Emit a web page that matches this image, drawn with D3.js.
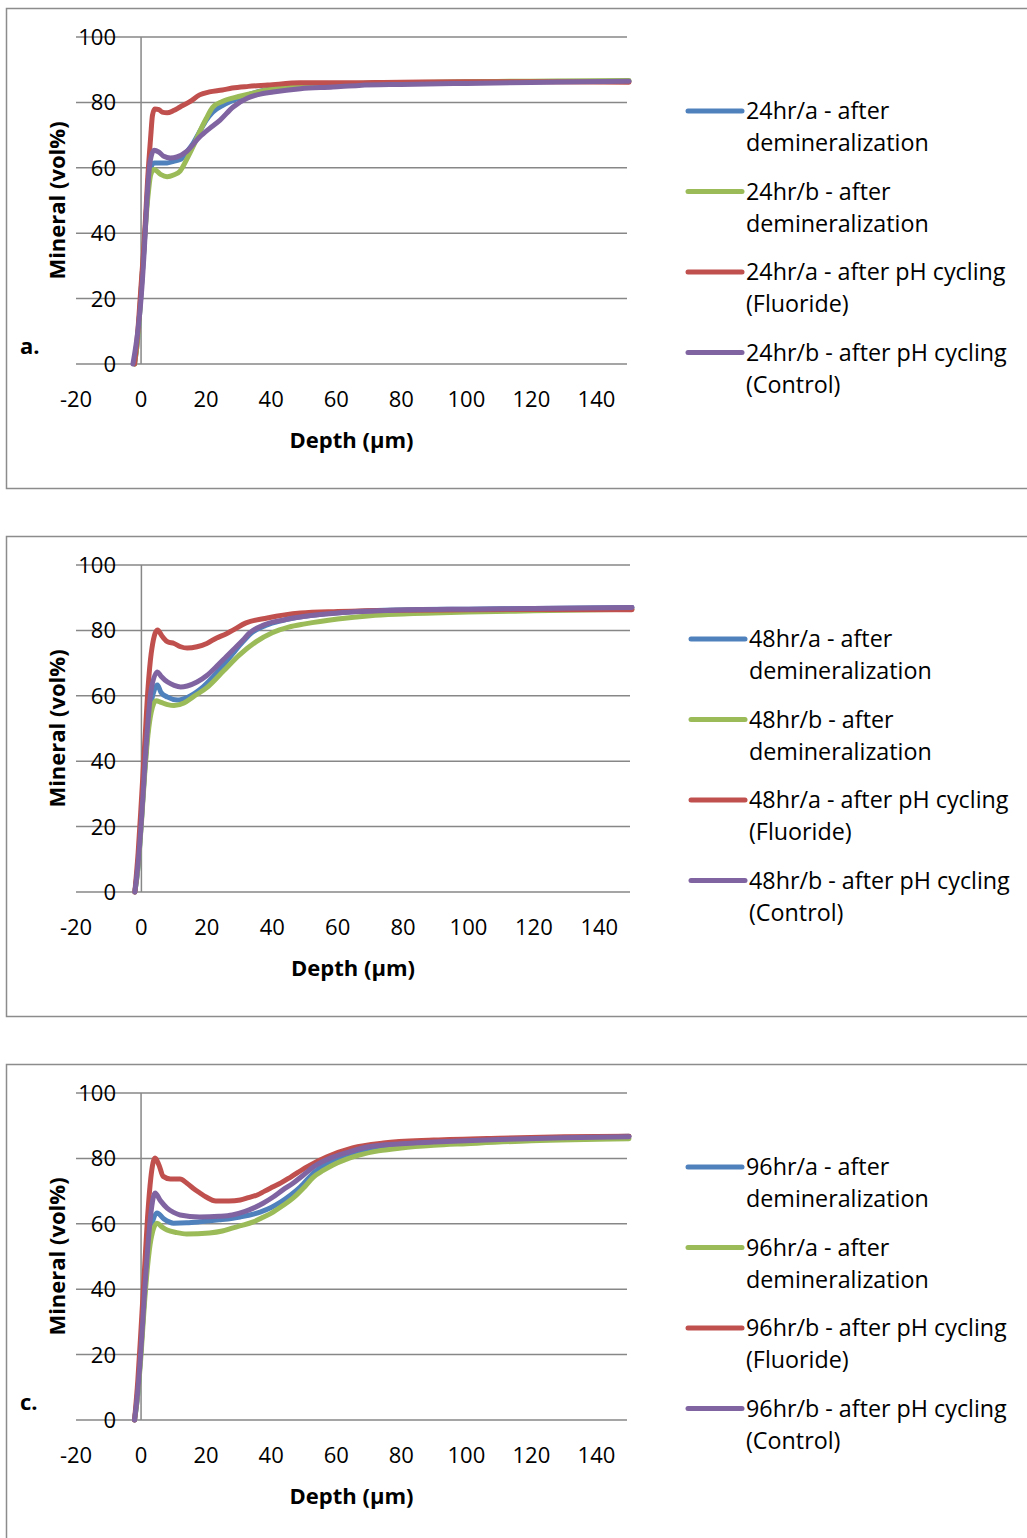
<!DOCTYPE html>
<html>
<head>
<meta charset="utf-8">
<script src="https://cdn.jsdelivr.net/npm/d3@7"></script>
<style>
  html, body { margin: 0; padding: 0; background: #fff; }
  svg { display: block; }
  text { font-family: "Open Sans", Lato, sans-serif; fill: #000; }
</style>
</head>
<body>
<div id="chart"></div>
<script>
"use strict";

// ─── Data: [depth µm, mineral vol%] ─────────────────────────────────────────
// 24 hr
const blue24 = [[-2,0],[-1,8],[0,22],[1,37],[2,52],[3,60],[4,61.5],[6,61.5],[8,61.5],[10,62],[12,62.5],[14,64.8],[16,67.5],[18,71],[20,74.5],[22,77],[25,79],[28,80.5],[32,82],[36,83.3],[40,84.2],[50,85],[60,85.5],[80,86],[100,86.2],[120,86.3],[150,86.5]];
const green24 = [[-2,0],[-1,8],[0,22],[1,37],[2,50],[3,58],[4,59.5],[6,58],[8,57.3],[10,57.8],[12,59],[14,62.5],[16,66.5],[18,71],[20,75],[22,78.5],[25,80.3],[30,81.8],[35,83],[40,84],[50,85],[60,85.6],[80,86],[100,86.3],[120,86.5],[150,86.7]];
const red24 = [[-2,0],[-1,10],[0,24],[1,38],[2,56],[3,70],[3.5,76],[4.2,78],[5.5,77.8],[6.5,77],[8,76.8],[10,77.5],[12,78.6],[15,80.2],[18,82.3],[21,83.2],[25,83.8],[28,84.4],[33,84.9],[39,85.3],[49,86],[60,86],[80,86.2],[100,86.3],[120,86.3],[150,86.2]];
const purple24 = [[-2.5,0],[-1,10],[0,20],[1,35],[1.8,50],[2.8,62],[4,65.4],[5.5,64.8],[7,63.5],[9,63],[11,63.3],[14,65],[18,69.4],[21,72],[24.3,74.6],[28.3,78.6],[32.6,81.3],[36,82.4],[40.6,83.2],[49,84.2],[59,84.7],[67,85.2],[80,85.5],[100,85.8],[120,86.1],[150,86.5]];

// 48 hr
const blue48 = [[-2,0],[-1,8],[0,22],[1,37],[2,50],[3,58],[4,62],[4.9,63.3],[6,61],[8,59.6],[11,58.7],[14,59.5],[18,62],[23,67],[28,73],[31,76.5],[34,79.5],[38,81.5],[43,83],[50,84.3],[59,85.3],[70,86],[80,86.3],[100,86.5],[120,86.7],[150,87]];
const green48 = [[-2,0],[-1,8],[0,21],[1,36],[2,48],[3,55],[4.5,58.5],[6,58],[8,57.3],[10,57],[13,57.8],[16,59.8],[20,62.5],[25,67.5],[30,72.5],[35,76.5],[40,79.3],[45,81],[50,82],[60,83.5],[70,84.5],[80,85],[100,85.6],[120,86],[150,86.5]];
const red48 = [[-2,0],[-1,12],[0,28],[1,45],[2,62],[3,73],[4.9,80.1],[6.5,78],[8,76.5],[10,76],[12,75],[14,74.6],[17,75],[20,76],[23,77.7],[26,79],[28,80.1],[32,82.3],[38.5,83.8],[48.6,85.3],[60,85.8],[80,86.2],[100,86.3],[120,86.4],[150,86.3]];
const purple48 = [[-2,0],[-1,9],[0,22],[1,38],[2,52],[3,62],[4.9,67.3],[6,66],[8,64.2],[10,63.2],[12,62.7],[14,63],[17,64.2],[20,66.2],[23,69],[26,72],[28,74],[31,77],[33,79.2],[37,81.5],[43.5,83.2],[50,84.3],[60,85.3],[80,86.2],[100,86.5],[120,86.7],[150,87]];

// 96 hr
const blue96 = [[-2,0],[-1,8],[0,22],[1,37],[2,50],[3,58],[4.9,63.3],[7,61.5],[10,60.2],[14,60.3],[18,60.6],[24,61.2],[30.5,62.1],[36.6,63.6],[40,65],[43,66.7],[46,68.8],[49,71.3],[53,75.5],[56,77.8],[59,79.5],[64,81.3],[69.5,82.6],[80,84],[90,84.8],[110,85.6],[130,86.3],[150,86.8]];
const green96 = [[-2,0],[-1,8],[0,20],[1,35],[2,47],[3,55],[4.9,60.2],[6.5,59],[8,58.1],[11,57.3],[14,56.9],[21,57.2],[25,57.8],[28,58.7],[31,59.5],[34.5,60.6],[37.5,62],[40.6,63.6],[43.5,65.5],[46.8,67.9],[50,71],[53,74.3],[56,76.3],[59,78],[63,79.7],[67,81],[73,82.3],[80,83.2],[90,84],[100,84.5],[120,85.4],[150,86]];
const red96 = [[-2,0],[-1,12],[0,28],[1,45],[2,62],[3,74],[4.3,80.1],[5.5,78],[6.8,74.5],[9,73.7],[12,73.7],[14,72.5],[16,70.9],[18,69.5],[20,68.2],[23,67],[27,67],[30.5,67.3],[33,68],[35.7,68.8],[38,70],[40.6,71.3],[43,72.5],[46,74.3],[51,77.4],[57,80.4],[65,83.2],[74.5,84.7],[90,85.6],[110,86.2],[130,86.6],[150,86.8]];
const purple96 = [[-2,0],[-1,9],[0,22],[1,38],[2,52],[3,63],[4.3,69.4],[6,67],[8,64.8],[10,63.5],[12,62.7],[18,62.1],[24,62.3],[28,62.7],[32,63.8],[34.5,64.8],[37.5,66.3],[40.6,68.2],[43.5,70.3],[46.8,72.5],[50,75],[53,77.4],[59,80.4],[64,82],[69.5,83.5],[80,84.5],[90,85],[110,85.8],[130,86.3],[150,86.6]];

const legend24 = [["24hr/a - after", "demineralization"], ["24hr/b - after", "demineralization"], ["24hr/a - after pH cycling", "(Fluoride)"], ["24hr/b - after pH cycling", "(Control)"]];
const legend48 = [["48hr/a - after", "demineralization"], ["48hr/b - after", "demineralization"], ["48hr/a - after pH cycling", "(Fluoride)"], ["48hr/b - after pH cycling", "(Control)"]];
const legend96 = [["96hr/a - after", "demineralization"], ["96hr/a - after", "demineralization"], ["96hr/b - after pH cycling", "(Fluoride)"], ["96hr/b - after pH cycling", "(Control)"]];

const xTicks = [-20, 0, 20, 40, 60, 80, 100, 120, 140];
const yTicks = [0, 20, 40, 60, 80, 100];
const COLORS = ["#4f81bd", "#9bbb59", "#c0504d", "#8064a2"];

// ─── Layout ─────────────────────────────────────────────────────────────────
const W = 1027, H = 1538;
const panels = [
  { top: 8,    y0: 364,  y100: 37,   right: 627, series: [blue24, green24, red24, purple24], legend: legend24, legendX: 688, legendY: 111, tag: "a." },
  { top: 536,  y0: 892,  y100: 565,  right: 630, series: [blue48, green48, red48, purple48], legend: legend48, legendX: 691, legendY: 639, tag: "" },
  { top: 1064, y0: 1420, y100: 1093, right: 627, series: [blue96, green96, red96, purple96], legend: legend96, legendX: 688, legendY: 1167, tag: "c." },
];

const svg = d3.select("#chart").append("svg")
  .attr("width", W).attr("height", H)
  .attr("viewBox", `0 0 ${W} ${H}`);

const GRID = "#878787";
const FS = 22;
const LEGEND_FS = 23.3;

panels.forEach((p) => {
  const g = svg.append("g");

  // frame (right side runs off the page)
  g.append("rect")
    .attr("x", 6.5).attr("y", p.top + 0.5)
    .attr("width", W + 20).attr("height", 480)
    .attr("fill", "#fff")
    .attr("stroke", "#8c8c8c")
    .attr("stroke-width", 1.5);

  const x = d3.scaleLinear().domain([-20, 150]).range([76, p.right + 2]);
  const y = d3.scaleLinear().domain([0, 100]).range([p.y0, p.y100]);

  // horizontal gridlines
  g.selectAll("line.grid").data(yTicks).join("line")
    .attr("class", "grid")
    .attr("x1", x(-20)).attr("x2", p.right)
    .attr("y1", (d) => y(d)).attr("y2", (d) => y(d))
    .attr("stroke", GRID).attr("stroke-width", 1.5);

  // vertical axis at depth 0
  g.append("line")
    .attr("x1", x(0)).attr("x2", x(0))
    .attr("y1", y(0)).attr("y2", y(100))
    .attr("stroke", GRID).attr("stroke-width", 1.5);

  // y tick labels
  g.selectAll("text.ytick").data(yTicks).join("text")
    .attr("class", "ytick")
    .attr("x", 116).attr("y", (d) => y(d))
    .attr("dy", "0.36em")
    .attr("text-anchor", "end")
    .attr("font-size", FS)
    .text((d) => d);

  // x tick labels
  g.selectAll("text.xtick").data(xTicks).join("text")
    .attr("class", "xtick")
    .attr("x", (d) => x(d)).attr("y", y(0) + 35)
    .attr("dy", "0.36em")
    .attr("text-anchor", "middle")
    .attr("font-size", FS)
    .text((d) => d);

  // axis titles
  g.append("text")
    .attr("x", (x(-20) + p.right) / 2).attr("y", y(0) + 76)
    .attr("dy", "0.36em")
    .attr("text-anchor", "middle")
    .attr("font-size", FS).attr("font-weight", "bold")
    .text("Depth (µm)");

  g.append("text")
    .attr("transform", `translate(57,${(y(0) + y(100)) / 2}) rotate(-90)`)
    .attr("dy", "0.36em")
    .attr("text-anchor", "middle")
    .attr("font-size", FS).attr("font-weight", "bold")
    .text("Mineral (vol%)");

  if (p.tag) {
    g.append("text")
      .attr("x", 20).attr("y", y(0) - 18)
      .attr("dy", "0.36em")
      .attr("font-size", FS).attr("font-weight", "bold")
      .text(p.tag);
  }

  // series
  const line = d3.line()
    .x((d) => x(d[0]))
    .y((d) => y(d[1]))
    .curve(d3.curveMonotoneX);

  g.selectAll("path.series").data(p.series).join("path")
    .attr("class", "series")
    .attr("d", line)
    .attr("fill", "none")
    .attr("stroke", (d, i) => COLORS[i])
    .attr("stroke-width", 5)
    .attr("stroke-linejoin", "round")
    .attr("stroke-linecap", "round");

  // legend
  const items = g.selectAll("g.legend").data(p.legend).join("g")
    .attr("class", "legend")
    .attr("transform", (d, i) => `translate(${p.legendX},${p.legendY + i * 80.5})`);

  items.append("line")
    .attr("x1", 0).attr("x2", 54)
    .attr("stroke", (d, i) => COLORS[i])
    .attr("stroke-width", 5)
    .attr("stroke-linecap", "round");

  items.append("text")
    .attr("x", 58)
    .attr("font-size", LEGEND_FS)
    .selectAll("tspan").data((d) => d).join("tspan")
    .attr("x", 58)
    .attr("y", (d, j) => j * 32)
    .attr("dy", "0.36em")
    .text((d) => d);
});
</script>
</body>
</html>
